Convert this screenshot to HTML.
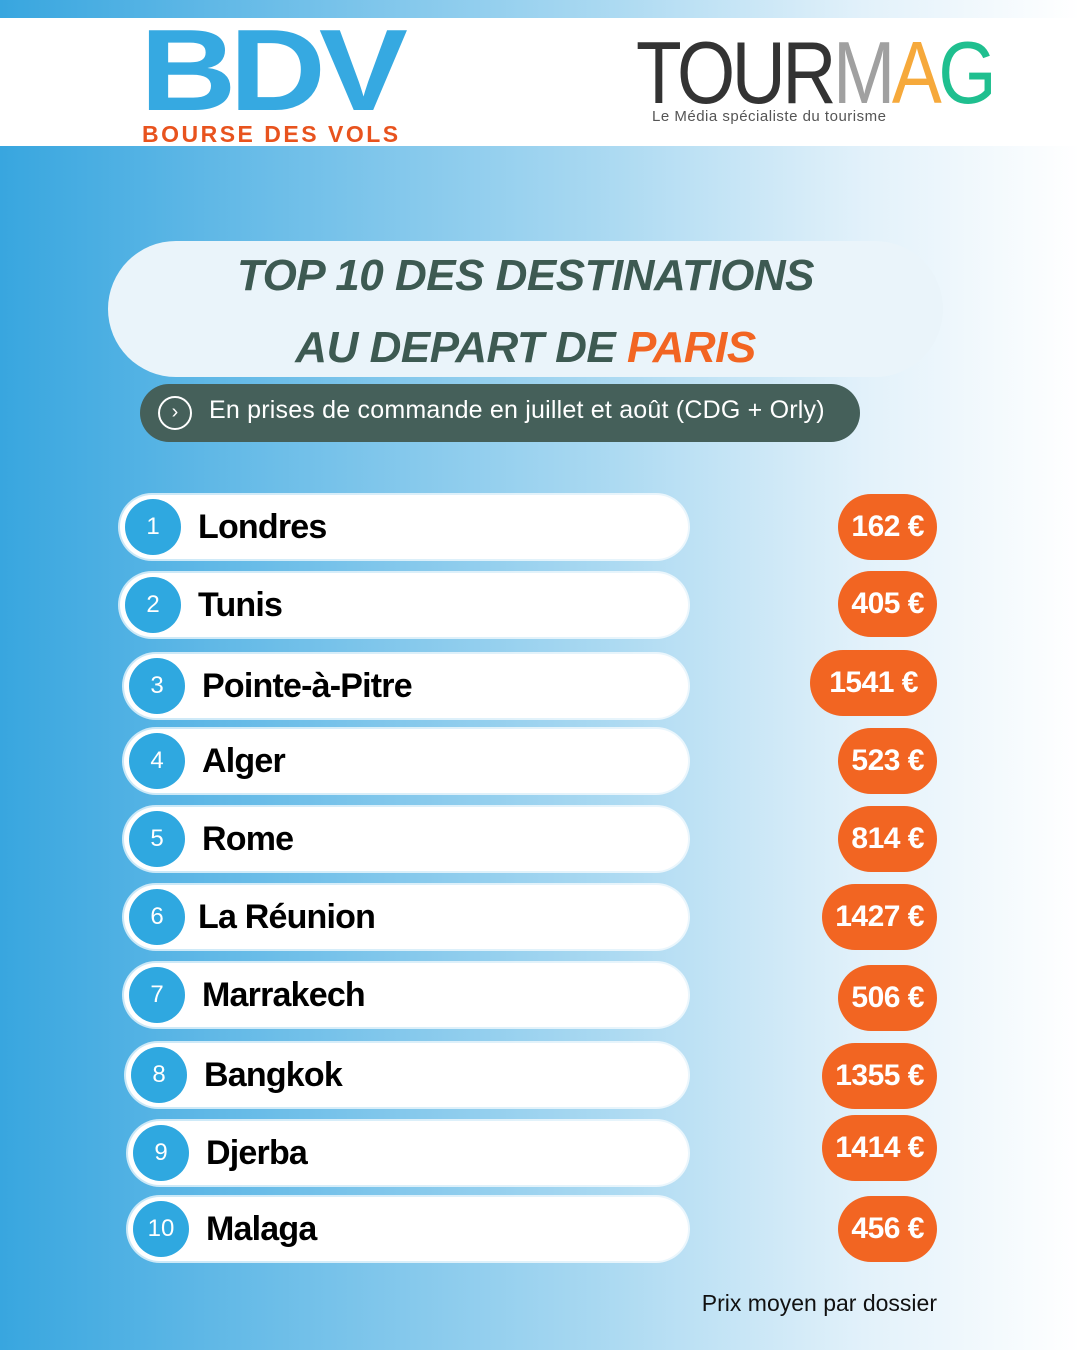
<!DOCTYPE html>
<html><head><meta charset="utf-8"><style>
body{margin:0;width:1080px;height:1350px;overflow:hidden;font-family:"Liberation Sans",sans-serif;
background:linear-gradient(90deg,#38a6df 0%,#6bbde8 25%,#a8d8f1 55%,#e2f1fa 80%,#ffffff 100%);position:relative}
.top{position:absolute;left:0;top:18px;width:1080px;height:128px;background:#fff}
.a{position:absolute}
.bar{position:absolute;left:120px;width:568px;height:64px;background:#fff;border-radius:34px;box-shadow:0 0 0 2px rgba(255,255,255,.7)}
.num{position:absolute;left:5px;top:4px;width:56px;height:56px;border-radius:50%;background:#2fa8e0;color:#fff;font-size:24px;line-height:56px;text-align:center}
.nm{position:absolute;left:78px;top:0;line-height:64px;font-size:34px;font-weight:bold;color:#000;letter-spacing:-0.8px}
.pr{position:absolute;right:143px;height:66px;border-radius:33px;background:#f26522;color:#fff;font-weight:bold;font-size:30px;line-height:66px;text-align:center;padding:0 13px;letter-spacing:-0.5px}
</style></head><body>
<div class="top"></div>
<div class="a" style="left:140px;top:12px;font-size:116px;font-weight:bold;color:#36a9e1;letter-spacing:-6px;line-height:116px;transform:scaleX(1.15);transform-origin:left">BDV</div>
<div class="a" style="left:142px;top:121px;font-size:23px;font-weight:bold;color:#e8531e;letter-spacing:2.5px">BOURSE DES VOLS</div>
<div class="a" style="left:636px;top:28px;font-size:88px;color:#333;letter-spacing:-4px;line-height:90px;transform:scaleX(0.85);transform-origin:left">TOUR<span style="color:#a0a0a0">M</span><span style="color:#f6a93b">A</span><span style="color:#1fbf8f">G</span></div>
<div class="a" style="left:652px;top:108px;font-size:15px;color:#555;letter-spacing:0.5px">Le Média spécialiste du tourisme</div>
<div class="a" style="left:108px;top:241px;width:835px;height:136px;border-radius:68px;background:#eaf4fa"></div>
<div class="a" style="left:108px;top:240px;width:835px;text-align:center;font-size:44px;font-weight:bold;font-style:italic;color:#3d5a52;line-height:72px;letter-spacing:-0.5px">TOP 10 DES DESTINATIONS<br>AU DEPART DE <span style="color:#f26522">PARIS</span></div>
<div class="a" style="left:140px;top:384px;width:720px;height:58px;border-radius:29px;background:#45605a"></div>
<div class="a" style="left:158px;top:396px;width:34px;height:34px;border-radius:50%;border:2px solid #fff;box-sizing:border-box;color:#fff;text-align:center;line-height:28px;font-size:20px">›</div>
<div class="a" style="left:209px;top:396px;color:#fff;font-size:25px;letter-spacing:0.2px">En prises de commande en juillet et août (CDG + Orly)</div>

<div class="bar" style="top:495px"><div class="num">1</div><div class="nm">Londres</div></div>
<div class="bar" style="top:573px"><div class="num">2</div><div class="nm">Tunis</div></div>
<div class="bar" style="top:654px;left:124px;width:564px"><div class="num">3</div><div class="nm">Pointe-à-Pitre</div></div>
<div class="bar" style="top:729px;left:124px;width:564px"><div class="num">4</div><div class="nm">Alger</div></div>
<div class="bar" style="top:807px;left:124px;width:564px"><div class="num">5</div><div class="nm">Rome</div></div>
<div class="bar" style="top:885px;left:124px;width:564px"><div class="num">6</div><div class="nm" style="left:74px">La Réunion</div></div>
<div class="bar" style="top:963px;left:124px;width:564px"><div class="num">7</div><div class="nm">Marrakech</div></div>
<div class="bar" style="top:1043px;left:126px;width:562px"><div class="num">8</div><div class="nm">Bangkok</div></div>
<div class="bar" style="top:1121px;left:128px;width:560px"><div class="num">9</div><div class="nm">Djerba</div></div>
<div class="bar" style="top:1197px;left:128px;width:560px"><div class="num">10</div><div class="nm">Malaga</div></div>

<div class="pr" style="top:494px">162 €</div>
<div class="pr" style="top:571px">405 €</div>
<div class="pr" style="top:650px;padding:0 19px">1541 €</div>
<div class="pr" style="top:728px">523 €</div>
<div class="pr" style="top:806px">814 €</div>
<div class="pr" style="top:884px">1427 €</div>
<div class="pr" style="top:965px">506 €</div>
<div class="pr" style="top:1043px">1355 €</div>
<div class="pr" style="top:1115px">1414 €</div>
<div class="pr" style="top:1196px">456 €</div>

<div class="a" style="right:143px;top:1290px;font-size:23px;color:#111">Prix moyen par dossier</div>
</body></html>
